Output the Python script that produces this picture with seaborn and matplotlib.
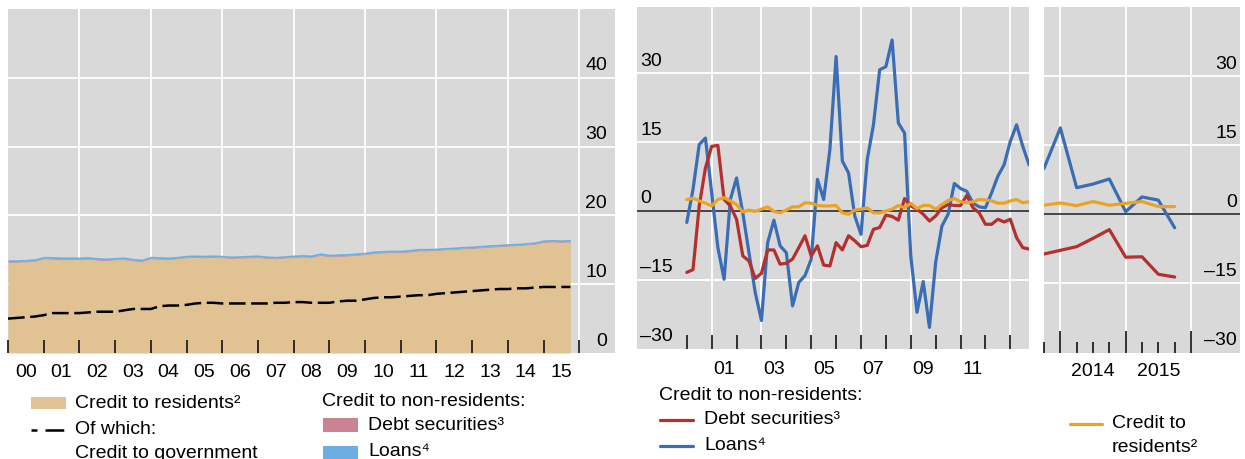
import numpy as np
import matplotlib
matplotlib.use("Agg")
import matplotlib.pyplot as plt
from matplotlib.patches import Rectangle
from matplotlib.lines import Line2D
import seaborn as sns

# ---- data ----
# left panel: stocks, quarterly 2000Q1-2015Q4
left_q = np.arange(2000, 2016, 0.25)
credit_residents = [
    13.2, 13.2, 13.25, 13.35, 13.7, 13.65, 13.6, 13.6,
    13.6, 13.65, 13.5, 13.45, 13.55, 13.6, 13.4, 13.3,
    13.7, 13.65, 13.6, 13.7, 13.85, 13.9, 13.85, 13.9,
    13.85, 13.75, 13.8, 13.85, 13.9, 13.75, 13.7, 13.8,
    13.9, 13.95, 13.9, 14.2, 14.0, 14.05, 14.1, 14.2,
    14.3, 14.5, 14.55, 14.6, 14.6, 14.7, 14.85, 14.85,
    14.9, 15.0, 15.05, 15.15, 15.2, 15.3, 15.4, 15.45,
    15.55, 15.6, 15.7, 15.8, 16.1, 16.15, 16.1, 16.15,
]
debt_securities_stock = [
    0.10, 0.10, 0.11, 0.10, 0.10, 0.11, 0.11, 0.10,
    0.10, 0.10, 0.11, 0.11, 0.10, 0.10, 0.10, 0.10,
    0.11, 0.10, 0.10, 0.10, 0.10, 0.10, 0.11, 0.11,
    0.10, 0.10, 0.10, 0.10, 0.10, 0.11, 0.10, 0.10,
    0.10, 0.10, 0.10, 0.11, 0.10, 0.10, 0.10, 0.10,
    0.10, 0.10, 0.10, 0.10, 0.10, 0.10, 0.10, 0.10,
    0.10, 0.10, 0.10, 0.10, 0.10, 0.10, 0.10, 0.10,
    0.10, 0.10, 0.10, 0.10, 0.10, 0.10, 0.10, 0.10,
]
loans_stock = [
    0.25, 0.25, 0.25, 0.26, 0.25, 0.25, 0.25, 0.26,
    0.25, 0.25, 0.26, 0.25, 0.25, 0.25, 0.26, 0.25,
    0.25, 0.25, 0.25, 0.25, 0.26, 0.25, 0.25, 0.25,
    0.25, 0.25, 0.25, 0.26, 0.25, 0.25, 0.25, 0.25,
    0.25, 0.25, 0.25, 0.25, 0.25, 0.26, 0.25, 0.25,
    0.25, 0.25, 0.25, 0.25, 0.25, 0.25, 0.25, 0.25,
    0.25, 0.25, 0.25, 0.25, 0.25, 0.25, 0.25, 0.25,
    0.25, 0.25, 0.25, 0.25, 0.25, 0.25, 0.25, 0.25,
]
credit_government = [
    5.0, 5.1, 5.2, 5.3, 5.5, 5.8, 5.8, 5.8,
    5.8, 5.9, 6.0, 6.0, 6.0, 6.2, 6.4, 6.4,
    6.4, 6.8, 6.9, 6.9, 7.0, 7.2, 7.3, 7.3,
    7.2, 7.2, 7.2, 7.2, 7.2, 7.2, 7.3, 7.3,
    7.4, 7.4, 7.3, 7.3, 7.3, 7.5, 7.6, 7.6,
    7.8, 8.0, 8.1, 8.1, 8.2, 8.3, 8.4, 8.4,
    8.6, 8.7, 8.8, 8.9, 9.0, 9.1, 9.2, 9.3,
    9.3, 9.4, 9.4, 9.5, 9.6, 9.6, 9.6, 9.6,
]
left_year_labels = ["00", "01", "02", "03", "04", "05", "06", "07",
                    "08", "09", "10", "11", "12", "13", "14", "15"]

# middle panel: growth rates, quarterly 2000Q1-2013Q4
mid_q = np.arange(2000, 2014, 0.25)
mid_loans = [
    -2.5, 4.7, 14.5, 15.9, 4.0, -8.0, -14.9, 2.5,
    7.2, -0.4, -9.1, -17.8, -23.9, -6.9, -2.0, -7.6,
    -9.1, -20.7, -15.6, -14.1, -10.5, 6.9, 2.5, 13.4,
    33.7, 10.9, 8.3, -1.1, -5.1, 11.2, 18.8, 30.8,
    31.5, 37.3, 19.2, 17.0, -9.8, -22.1, -15.4, -25.4,
    -11.2, -3.3, -0.7, 6.0, 4.9, 4.3, 1.7, 0.9,
    0.7, 4.0, 7.6, 10.1, 15.2, 18.8, 14.1, 10.1,
]
mid_debt = [
    -13.4, -12.8, 1.1, 9.4, 14.1, 14.3, 2.5, 1.1,
    -1.8, -9.8, -10.9, -14.7, -13.6, -8.5, -8.5, -11.6,
    -11.4, -10.5, -8.0, -5.4, -9.8, -7.6, -11.8, -12.0,
    -6.9, -8.5, -5.4, -6.5, -7.8, -7.5, -4.0, -3.6,
    -0.9, -1.2, -2.0, 2.7, 1.1, 0.4, -0.7, -2.2,
    -1.1, 0.7, 1.4, 1.2, 1.2, 3.4, 0.7, -0.4,
    -2.9, -2.9, -1.8, -2.4, -1.8, -5.8, -8.0, -8.3,
]
mid_residents = [
    2.5, 2.8, 2.2, 1.7, 1.1, 2.5, 2.9, 2.2,
    1.4, -0.2, 0.2, -0.1, 0.4, 0.9, -0.1, -0.4,
    0.2, 0.9, 0.9, 1.8, 1.7, 1.2, 1.1, 1.1,
    1.2, -0.4, -0.7, 0.2, 0.4, 0.7, -0.4, -0.4,
    0.0, 0.4, 1.2, 0.7, 1.7, 0.5, 1.2, 1.2,
    0.4, 1.4, 2.3, 2.7, 2.0, 1.8, 2.0, 2.5,
    2.4, 2.2, 1.7, 1.7, 2.2, 2.5, 1.8, 2.0,
]
mid_year_labels = ["01", "03", "05", "07", "09", "11"]
mid_label_years = [2001, 2003, 2005, 2007, 2009, 2011]

# right panel: 2013Q4-2015Q4
right_q = np.arange(2013.75, 2016.0, 0.25)
right_loans = [10.0, 18.8, 5.8, 6.6, 7.7, 0.6, 3.8, 3.1, -2.9]
right_debt = [-8.6, -7.8, -7.0, -5.2, -3.3, -9.3, -9.2, -13.0, -13.6]
right_residents = [2.0, 2.5, 1.9, 2.8, 2.0, 2.4, 2.8, 1.7, 1.7]
right_year_labels = ["2014", "2015"]
right_label_years = [2014, 2015]

# ---- style ----
W, H = 1245, 459
PT = 0.72  # points per pixel at 100 dpi
FS = 14
BG = "#D9D9D9"
TAN = "#E1C293"
PINK = "#C98393"
LBLUE = "#6AAEE3"
BLUE = "#3A6DB4"
RED = "#B3302F"
ORANGE = "#EBA324"
DARK = "#222222"

sns.set_theme(style="dark")
plt.rcParams['font.family'] = ['Liberation Sans', 'DejaVu Sans']
plt.rcParams['lines.scale_dashes'] = False
plt.rcParams['text.color'] = 'black'

fig = plt.figure(figsize=(W / 100, H / 100), dpi=100)
fig.patch.set_facecolor("white")


def axes_px(x0, y0, x1, y1):
    return fig.add_axes([x0 / W, 1 - y1 / H, (x1 - x0) / W, (y1 - y0) / H])


def base_style(ax, hgrid, vgrid):
    ax.set_facecolor(BG)
    ax.set_axisbelow(False)
    for s in ax.spines.values():
        s.set_visible(False)
    ax.grid(False)
    ax.tick_params(axis='y', left=False, right=False, labelleft=False, labelright=False)
    for v in hgrid:
        ax.axhline(v, color="white", lw=1.3, zorder=1)
    for v in vgrid:
        ax.axvline(v, color="white", lw=1.3, zorder=1)


def ylabels(ax, vals, side, inset):
    for v in vals:
        txt = str(v).replace("-", "\u2013")
        if side == "right":
            ax.annotate(txt, xy=(1, v), xycoords=('axes fraction', 'data'),
                        xytext=(-inset * PT, 12 * PT), textcoords='offset points',
                        ha='right', va='center', fontsize=FS, zorder=6)
        else:
            ax.annotate(txt, xy=(0, v), xycoords=('axes fraction', 'data'),
                        xytext=(inset * PT, 12 * PT), textcoords='offset points',
                        ha='left', va='center', fontsize=FS, zorder=6)


def xlabels(ax, xs, texts, below):
    for x, t in zip(xs, texts):
        ax.annotate(t, xy=(x, 0), xycoords=('data', 'axes fraction'),
                    xytext=(0, -below * PT), textcoords='offset points',
                    ha='center', va='center', fontsize=FS, annotation_clip=False)


# ---- left panel ----
ax1 = axes_px(8, 9, 615, 353)
base_style(ax1, [10, 20, 30, 40], range(2002, 2017, 2))
res = np.array(credit_residents)
dsec = res + np.array(debt_securities_stock)
tot = dsec + np.array(loans_stock)
ax1.fill_between(left_q, 0, res, color=TAN, lw=0, zorder=2)
ax1.fill_between(left_q, res, dsec, color=PINK, lw=0, zorder=2)
ax1.fill_between(left_q, dsec, tot, color=LBLUE, lw=0, zorder=2)
sns.lineplot(x=left_q, y=credit_government, ax=ax1, color="black", lw=1.8,
             linestyle="--", zorder=3)
ax1.lines[-1].set_dashes([12, 4])
ax1.set_xlim(2000, 2017)
ax1.set_ylim(0, 50)
ax1.set_xticks(range(2000, 2017))
ax1.tick_params(axis='x', bottom=True, direction='in', length=13.5 * PT, width=1.3,
                color=DARK, labelbottom=False)
ax1.set_xlabel("")
ax1.set_ylabel("")
xlabels(ax1, [y + 0.5 for y in range(2000, 2016)], left_year_labels, 19.5)
ylabels(ax1, [0, 10, 20, 30, 40], "right", 8)

# ---- middle panel ----
ax2 = axes_px(637, 7, 1029, 348.5)
base_style(ax2, [-15, 15, 30], range(2001, 2014, 2))
ax2.axhline(0, color="#3A3A3A", lw=1.3, zorder=2)
sns.lineplot(x=mid_q, y=mid_loans, ax=ax2, color=BLUE, lw=2.3, zorder=3)
sns.lineplot(x=mid_q, y=mid_debt, ax=ax2, color=RED, lw=2.3, zorder=4)
sns.lineplot(x=mid_q, y=mid_residents, ax=ax2, color=ORANGE, lw=2.3, zorder=5)
ax2.set_xlim(1998, 2013.75)
ax2.set_ylim(-30, 44.5)
ax2.set_xticks(range(2000, 2014))
ax2.tick_params(axis='x', bottom=True, direction='in', length=14 * PT, width=1.3,
                color=DARK, labelbottom=False)
ax2.set_xlabel("")
ax2.set_ylabel("")
xlabels(ax2, [y + 0.5 for y in mid_label_years], mid_year_labels, 21.5)
ylabels(ax2, [-30, -15, 0, 15, 30], "left", 3)

# ---- right panel ----
ax3 = axes_px(1044, 7.3, 1240, 352.5)
base_style(ax3, [-15, 15, 30], [2014, 2015, 2016])
ax3.axhline(0, color="#3A3A3A", lw=1.3, zorder=2)
sns.lineplot(x=right_q, y=right_loans, ax=ax3, color=BLUE, lw=2.3, zorder=3)
sns.lineplot(x=right_q, y=right_debt, ax=ax3, color=RED, lw=2.3, zorder=4)
sns.lineplot(x=right_q, y=right_residents, ax=ax3, color=ORANGE, lw=2.3, zorder=5)
ax3.set_xlim(2013.75, 2016.75)
ax3.set_ylim(-30, 45)
ax3.set_xticks([2014, 2015, 2016])
ax3.set_xticks([2013.75, 2014.25, 2014.5, 2014.75, 2015.25, 2015.5, 2015.75], minor=True)
ax3.tick_params(axis='x', which='major', bottom=True, direction='in', length=22 * PT,
                width=1.3, color=DARK, labelbottom=False)
ax3.tick_params(axis='x', which='minor', bottom=True, direction='in', length=11 * PT,
                width=1.3, color=DARK, labelbottom=False)
ax3.set_xlabel("")
ax3.set_ylabel("")
xlabels(ax3, [y + 0.5 for y in right_label_years], right_year_labels, 19)
ylabels(ax3, [-30, -15, 0, 15, 30], "right", 3)

# ---- legends (figure pixel coordinates) ----
def ftext(x, y, s):
    fig.text(x / W, 1 - y / H, s, ha='left', va='center', fontsize=FS)


def fpatch(x0, y0, x1, y1, color):
    fig.add_artist(Rectangle((x0 / W, 1 - y1 / H), (x1 - x0) / W, (y1 - y0) / H,
                             transform=fig.transFigure, color=color, lw=0))


def fline(x0, x1, y, color, lw=2.3, dashes=None):
    ln = Line2D([x0 / W, x1 / W], [1 - y / H, 1 - y / H], transform=fig.transFigure,
                color=color, lw=lw)
    if dashes:
        ln.set_dashes(dashes)
    fig.add_artist(ln)


fpatch(31, 397, 66, 409, TAN)
ftext(75, 403, "Credit to residents\u00b2")
fline(31, 64, 430, "black", lw=1.8, dashes=[4.3, 5.8, 13.5, 20])
ftext(75, 430, "Of which:")
ftext(75, 454, "Credit to government")
ftext(322, 402, "Credit to non-residents:")
fpatch(323, 418, 358, 432, PINK)
ftext(368, 425, "Debt securities\u00b3")
fpatch(323, 446, 358, 459, LBLUE)
ftext(368, 451, "Loans\u2074")

ftext(659, 396, "Credit to non-residents:")
fline(660, 693, 420, RED)
ftext(704, 420, "Debt securities\u00b3")
fline(660, 693, 446, BLUE)
ftext(704, 446, "Loans\u2074")
fline(1070, 1102, 424, ORANGE)
ftext(1112, 424, "Credit to")
ftext(1112, 448, "residents\u00b2")

fig.savefig("out.png", dpi=100)
